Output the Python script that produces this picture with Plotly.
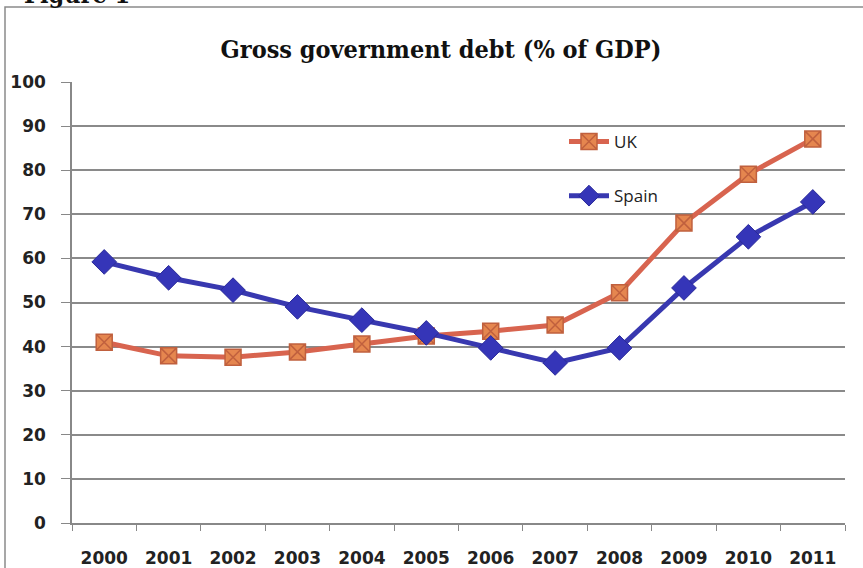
import plotly.graph_objects as go

years = ["2000", "2001", "2002", "2003", "2004", "2005", "2006", "2007", "2008", "2009", "2010", "2011"]
uk = [41.0, 37.9, 37.6, 38.8, 40.6, 42.4, 43.5, 44.9, 52.2, 68.0, 79.1, 87.1]
spain = [59.2, 55.6, 52.8, 49.0, 46.0, 43.1, 39.7, 36.3, 39.7, 53.3, 64.9, 72.8]
y_ticks = [0, 10, 20, 30, 40, 50, 60, 70, 80, 90, 100]

W, H = 863, 568
ml, mr, mt, mb = 72, 18, 82, 45
pw, ph = W - ml - mr, H - mt - mb

def px_x(p):
    return (p - ml) / pw

def px_y(p):
    return 1 - (p - mt) / ph

fig = go.Figure()
fig.add_trace(go.Scatter(
    x=years, y=uk, name="UK", mode="lines+markers", legendgroup="uk",
    line=dict(color="#D8644F", width=5),
    marker=dict(symbol="square-x", size=16, color="#E5864F",
                line=dict(color="#C0603E", width=1.5)),
))
fig.add_trace(go.Scatter(
    x=years, y=spain, name="Spain", mode="lines+markers", legendgroup="es",
    line=dict(color="#3838B0", width=5),
    marker=dict(symbol="diamond", size=19, color="#3535B8",
                line=dict(color="#2A2A9A", width=1)),
))

fig.update_layout(
    width=W, height=H,
    margin=dict(l=ml, r=mr, t=mt, b=mb),
    paper_bgcolor="white", plot_bgcolor="white",
    title=dict(text="<b>Gross government debt (% of GDP)</b>",
               x=441 / W, xanchor="center", y=1 - 49 / H, yanchor="middle",
               font=dict(family="DejaVu Serif Condensed", size=25, color="#111")),
    showlegend=True,
    legend=dict(x=px_x(564), y=px_y(124), xanchor="left", yanchor="top",
                bgcolor="rgba(0,0,0,0)", tracegroupgap=29, itemwidth=40,
                font=dict(family="Open Sans", size=17, color="#222")),
    xaxis=dict(type="category", tickson="boundaries", ticks="outside", ticklen=6,
               tickcolor="#888", showline=True, linecolor="#888", linewidth=1.5,
               showgrid=False, range=[-0.5, 11.5], ticklabelstandoff=19,
               automargin=False,
               tickfont=dict(family="DejaVu Sans", size=17, color="#222", weight="bold")),
    yaxis=dict(range=[0, 100], tickvals=y_ticks, ticks="outside", ticklen=9,
               tickcolor="#888", showline=True, linecolor="#888", linewidth=1.5,
               showgrid=True, gridcolor="#8a8a8a", gridwidth=1.5, zeroline=False,
               ticklabelstandoff=12, automargin=False,
               tickfont=dict(family="DejaVu Sans", size=17, color="#222", weight="bold")),
    shapes=[dict(type="rect", xref="paper", yref="paper",
                 x0=px_x(5), x1=px_x(880), y0=px_y(7), y1=px_y(600),
                 line=dict(color="#8a8a8a", width=1.5), layer="below")],
    annotations=[dict(text="<b>Figure 1</b>", xref="paper", yref="paper",
                      x=px_x(22), y=px_y(-6), xanchor="left", yanchor="middle",
                      showarrow=False,
                      font=dict(family="DejaVu Serif Condensed", size=25, color="#111"))],
)

fig.write_html("out.html", config={"displayModeBar": False},
               post_script="document.body.style.margin='0px';document.body.style.overflow='hidden';")
